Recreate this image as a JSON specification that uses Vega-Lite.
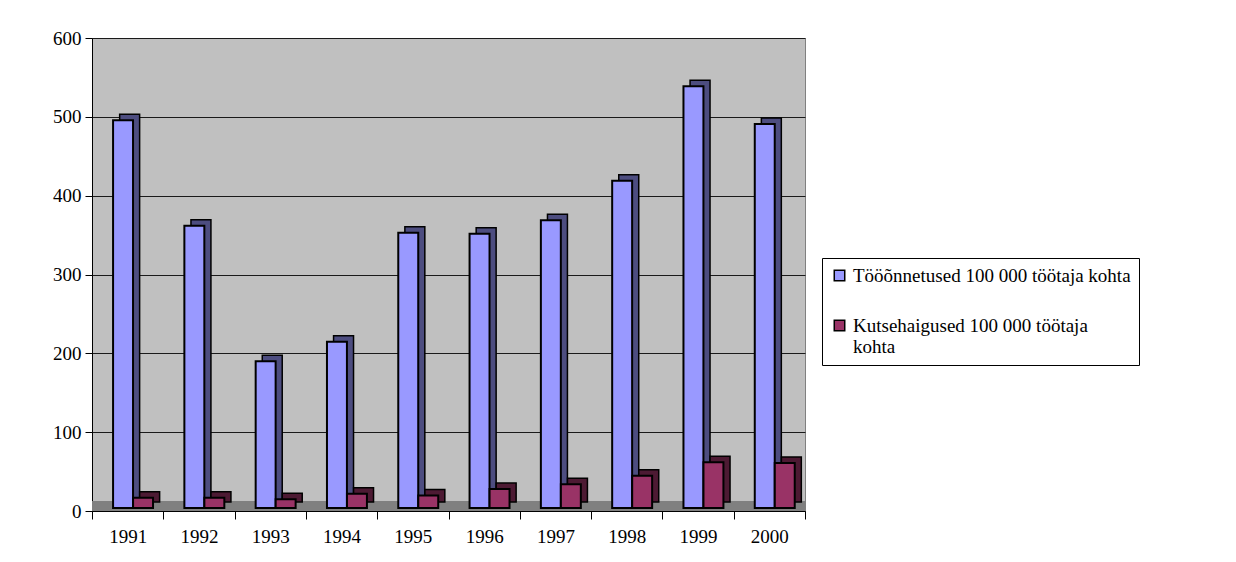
{
  "$schema": "https://vega.github.io/schema/vega-lite/v6.json",
  "autosize": "none",
  "width": 713,
  "height": 473,
  "padding": {"left": 92, "top": 38, "right": 431, "bottom": 51},
  "background": "white",
  "config": {
    "view": {"fill": "#c0c0c0", "stroke": "#808080", "strokeWidth": 1},
    "font": "Liberation Serif",
    "axis": {"labelFont": "Liberation Serif", "labelFontSize": 19, "labelColor": "black", "domainColor": "black", "tickColor": "black", "gridColor": "#1a1a1a", "gridWidth": 1}
  },
  "data": {
    "values": [
      {"year": "1991", "series": "Tööõnnetused 100 000 töötaja kohta", "value": 492},
      {"year": "1992", "series": "Tööõnnetused 100 000 töötaja kohta", "value": 358},
      {"year": "1993", "series": "Tööõnnetused 100 000 töötaja kohta", "value": 186},
      {"year": "1994", "series": "Tööõnnetused 100 000 töötaja kohta", "value": 211},
      {"year": "1995", "series": "Tööõnnetused 100 000 töötaja kohta", "value": 349},
      {"year": "1996", "series": "Tööõnnetused 100 000 töötaja kohta", "value": 348},
      {"year": "1997", "series": "Tööõnnetused 100 000 töötaja kohta", "value": 365},
      {"year": "1998", "series": "Tööõnnetused 100 000 töötaja kohta", "value": 415},
      {"year": "1999", "series": "Tööõnnetused 100 000 töötaja kohta", "value": 535},
      {"year": "2000", "series": "Tööõnnetused 100 000 töötaja kohta", "value": 487},
      {"year": "1991", "series": "Kutsehaigused 100 000 töötaja kohta", "value": 13},
      {"year": "1992", "series": "Kutsehaigused 100 000 töötaja kohta", "value": 13},
      {"year": "1993", "series": "Kutsehaigused 100 000 töötaja kohta", "value": 11},
      {"year": "1994", "series": "Kutsehaigused 100 000 töötaja kohta", "value": 18},
      {"year": "1995", "series": "Kutsehaigused 100 000 töötaja kohta", "value": 16},
      {"year": "1996", "series": "Kutsehaigused 100 000 töötaja kohta", "value": 24},
      {"year": "1997", "series": "Kutsehaigused 100 000 töötaja kohta", "value": 30},
      {"year": "1998", "series": "Kutsehaigused 100 000 töötaja kohta", "value": 41},
      {"year": "1999", "series": "Kutsehaigused 100 000 töötaja kohta", "value": 58},
      {"year": "2000", "series": "Kutsehaigused 100 000 töötaja kohta", "value": 57}
    ]
  },
  "encoding": {
    "x": {
      "field": "year", "type": "nominal",
      "scale": {"paddingInner": 0, "paddingOuter": 0},
      "axis": {"title": null, "labelAngle": 0, "tickBand": "extent", "tickSize": 8, "labelPadding": 8, "grid": false}
    },
    "y": {
      "field": "value", "type": "quantitative",
      "scale": {"domain": [0, 600], "nice": false},
      "axis": {"title": null, "values": [0, 100, 200, 300, 400, 500, 600], "tickSize": 7, "labelPadding": 4, "grid": true}
    }
  },
  "layer": [
    {
      "mark": {"type": "rule", "color": "#808080", "strokeWidth": 10, "yOffset": -5},
      "encoding": {"y": {"datum": 0}, "x": {"value": 0}, "x2": {"value": 713}}
    },
    {
      "transform": [{"filter": "datum.series == 'Tööõnnetused 100 000 töötaja kohta'"}],
      "mark": {"type": "bar", "width": {"band": 0.28}, "xOffset": 2, "yOffset": -9, "fill": "#4d4d80", "stroke": "black", "strokeWidth": 1.5},
      "encoding": {}
    },
    {
      "transform": [{"filter": "datum.series == 'Tööõnnetused 100 000 töötaja kohta'"}],
      "mark": {"type": "bar", "width": {"band": 0.28}, "xOffset": -4.6, "yOffset": -3, "stroke": "black", "strokeWidth": 2, "opacity": 1},
      "encoding": {
        "color": {"field": "series", "type": "nominal"}
      }
    },
    {
      "transform": [{"filter": "datum.series == 'Kutsehaigused 100 000 töötaja kohta'"}],
      "mark": {"type": "bar", "width": {"band": 0.28}, "xOffset": 22, "yOffset": -9, "fill": "#4d1a33", "stroke": "black", "strokeWidth": 1.5},
      "encoding": {}
    },
    {
      "transform": [{"filter": "datum.series == 'Kutsehaigused 100 000 töötaja kohta'"}],
      "mark": {"type": "bar", "width": {"band": 0.28}, "xOffset": 15.4, "yOffset": -3, "stroke": "black", "strokeWidth": 2, "opacity": 1},
      "encoding": {
        "color": {
          "field": "series", "type": "nominal",
          "sort": ["Tööõnnetused 100 000 töötaja kohta", "Kutsehaigused 100 000 töötaja kohta"],
          "scale": {"domain": ["Tööõnnetused 100 000 töötaja kohta", "Kutsehaigused 100 000 töötaja kohta"], "range": ["#9999ff", "#993366"]},
          "legend": {
            "title": null, "orient": "none", "legendX": 730, "legendY": 220,
            "fillColor": "white", "strokeColor": "black", "padding": 8,
            "symbolType": "square", "symbolSize": 110, "symbolStrokeColor": "black", "symbolStrokeWidth": 1.5, "symbolOpacity": 1,
            "labelFont": "Liberation Serif", "labelFontSize": 19, "labelColor": "black", "labelLimit": 400,
            "rowPadding": 30,
            "labelExpr": "datum.label == 'Kutsehaigused 100 000 töötaja kohta' ? ['Kutsehaigused 100 000 töötaja', 'kohta'] : datum.label"
          }
        }
      }
    }
  ]
}
